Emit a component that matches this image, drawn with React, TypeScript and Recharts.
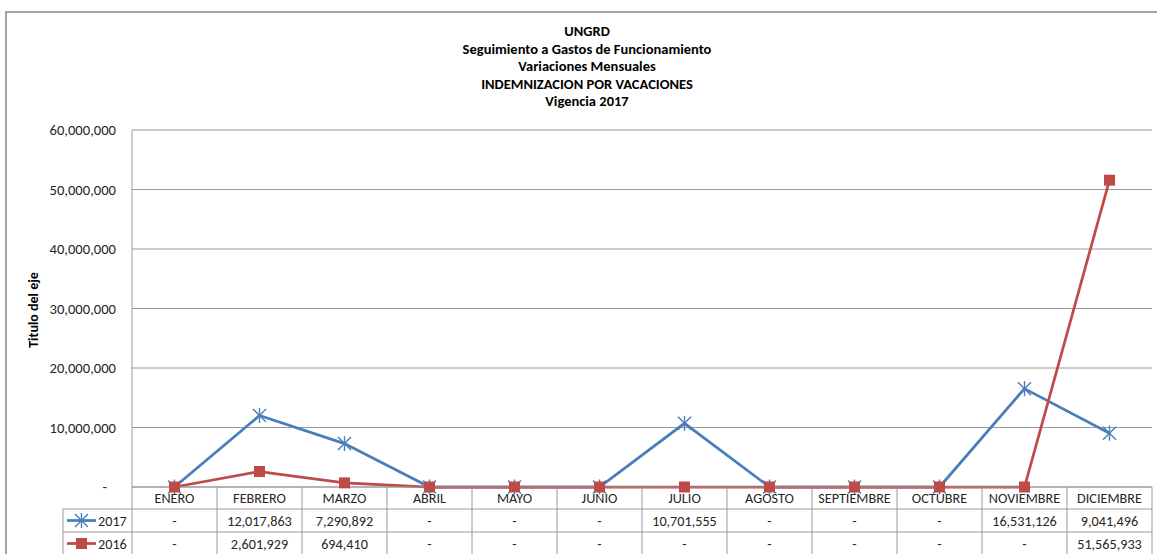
import React from 'react';
import { LineChart, Line, XAxis, YAxis, CartesianGrid } from 'recharts';

const months = ['ENERO', 'FEBRERO', 'MARZO', 'ABRIL', 'MAYO', 'JUNIO', 'JULIO', 'AGOSTO', 'SEPTIEMBRE', 'OCTUBRE', 'NOVIEMBRE', 'DICIEMBRE'];
const values2017 = [0, 12017863, 7290892, 0, 0, 0, 10701555, 0, 0, 0, 16531126, 9041496];
const values2016 = [0, 2601929, 694410, 0, 0, 0, 0, 0, 0, 0, 0, 51565933];
const yTicks = [0, 10000000, 20000000, 30000000, 40000000, 50000000, 60000000];
const titleLines = ['UNGRD', 'Seguimiento a Gastos de Funcionamiento', 'Variaciones Mensuales', 'INDEMNIZACION POR VACACIONES', 'Vigencia 2017'];
const seriesNames = ['2017', '2016'];
const axisTitle = 'Titulo del eje';

const data = months.map((m, i) => ({ month: m, y2017: values2017[i], y2016: values2016[i] }));

const W = 1157;
const H = 554;
const M_TOP = 130;
const M_RIGHT = 5;
const Y_W = 132;
const X_H = 67;
const CELL = (W - M_RIGHT - Y_W) / months.length;
const BLUE = '#4A7EBB';
const RED = '#BE4B48';
const GRID = '#9a9a9a';
const TXT = '#262626';
const FONT = 'Carlito, Calibri, Lato, sans-serif';
const TABLE_FS = 14.2;

const fmt = (v: number) => (v === 0 ? '-' : v.toLocaleString('en-US'));

const StarDot = (p: any) => {
  const { cx, cy } = p;
  if (cx == null || cy == null) return null;
  const s = 6.5;
  return (
    <g stroke={BLUE} strokeWidth={1.4}>
      <line x1={cx - s} y1={cy - s} x2={cx + s} y2={cy + s} />
      <line x1={cx - s} y1={cy + s} x2={cx + s} y2={cy - s} />
      <line x1={cx} y1={cy - s - 1} x2={cx} y2={cy + s + 1} />
    </g>
  );
};

const SquareDot = (p: any) => {
  const { cx, cy } = p;
  if (cx == null || cy == null) return null;
  return <rect x={cx - 5.5} y={cy - 5.5} width={11} height={11} fill={RED} />;
};

const YTick = (p: any) => {
  const { x, y, payload } = p;
  const v = payload.value as number;
  return (
    <text x={v === 0 ? x - 9 : x} y={y} dy={5} textAnchor="end" fontSize={14.6} fill={TXT} fontFamily={FONT}>
      {fmt(v)}
    </text>
  );
};

const TableTick = (p: any) => {
  const { x, y, payload } = p;
  const i = months.indexOf(payload.value);
  const half = CELL / 2;
  const left = x - half;
  const right = x + half;
  const r1 = y + 22;
  const r2 = y + 45;
  const textProps = { textAnchor: 'middle' as const, fontSize: TABLE_FS, fill: TXT, fontFamily: FONT };
  return (
    <g>
      <line x1={right} y1={y} x2={right} y2={H} stroke={GRID} />
      <line x1={left} y1={r1} x2={right} y2={r1} stroke={GRID} />
      <line x1={left} y1={r2} x2={right} y2={r2} stroke={GRID} />
      <text x={x} y={y + 16} {...textProps}>{months[i]}</text>
      <text x={x} y={y + 38.5} {...textProps}>{fmt(values2017[i])}</text>
      <text x={x} y={y + 61.5} {...textProps}>{fmt(values2016[i])}</text>
      {i === 0 && (
        <g>
          <line x1={left} y1={y} x2={left} y2={H} stroke={GRID} />
          <line x1={63} y1={r1} x2={63} y2={H} stroke={GRID} />
          <line x1={63} y1={r1} x2={left} y2={r1} stroke={GRID} />
          <line x1={63} y1={r2} x2={left} y2={r2} stroke={GRID} />
          <line x1={67} y1={y + 33.5} x2={96} y2={y + 33.5} stroke={BLUE} strokeWidth={2.75} />
          <StarDot cx={81.5} cy={y + 33.5} />
          <text x={98} y={y + 38.5} fontSize={TABLE_FS} fill={TXT} fontFamily={FONT}>{seriesNames[0]}</text>
          <line x1={67} y1={y + 56.5} x2={96} y2={y + 56.5} stroke={RED} strokeWidth={2.75} />
          <SquareDot cx={81.5} cy={y + 56.5} />
          <text x={98} y={y + 61.5} fontSize={TABLE_FS} fill={TXT} fontFamily={FONT}>{seriesNames[1]}</text>
        </g>
      )}
    </g>
  );
};

export default function App() {
  return (
    <div style={{ position: 'fixed', left: 0, top: 0, width: W, height: H, overflow: 'hidden', background: '#fff' }}>
      <div style={{ position: 'absolute', left: 5, top: 11, width: W + 20, height: H + 20, border: '2px solid #a3a3a3', boxSizing: 'border-box' }} />
      <div style={{ position: 'absolute', left: 0, top: 0 }}>
        <LineChart width={W} height={H} data={data} margin={{ top: M_TOP, right: M_RIGHT, left: 0, bottom: 0 }}>
          <text x={587} y={0} textAnchor="middle" fontFamily={FONT} fontWeight="bold" fontSize={14.5} fill="#000">
            {titleLines.map((t, k) => (
              <tspan key={k} x={587} y={36 + k * 17.5}>{t}</tspan>
            ))}
          </text>
          <text
            x={33}
            y={310}
            transform="rotate(-90 33 310)"
            textAnchor="middle"
            dominantBaseline="central"
            fontFamily={FONT}
            fontWeight="bold"
            fontSize={14}
            fill="#000"
          >
            {axisTitle}
          </text>
          <CartesianGrid vertical={false} stroke={GRID} />
          <YAxis
            width={Y_W}
            domain={[0, 60000000]}
            ticks={yTicks}
            interval={0}
            tickLine={false}
            tickSize={0}
            tickMargin={16}
            axisLine={{ stroke: GRID }}
            tick={<YTick />}
          />
          <XAxis
            dataKey="month"
            height={X_H}
            interval={0}
            padding={{ left: CELL / 2, right: CELL / 2 }}
            tickLine={false}
            tickSize={0}
            tickMargin={0}
            axisLine={{ stroke: GRID }}
            tick={<TableTick />}
          />
          <Line dataKey="y2017" stroke={BLUE} strokeWidth={2.75} dot={<StarDot />} isAnimationActive={false} />
          <Line dataKey="y2016" stroke={RED} strokeWidth={2.75} dot={<SquareDot />} isAnimationActive={false} />
        </LineChart>
      </div>
    </div>
  );
}
